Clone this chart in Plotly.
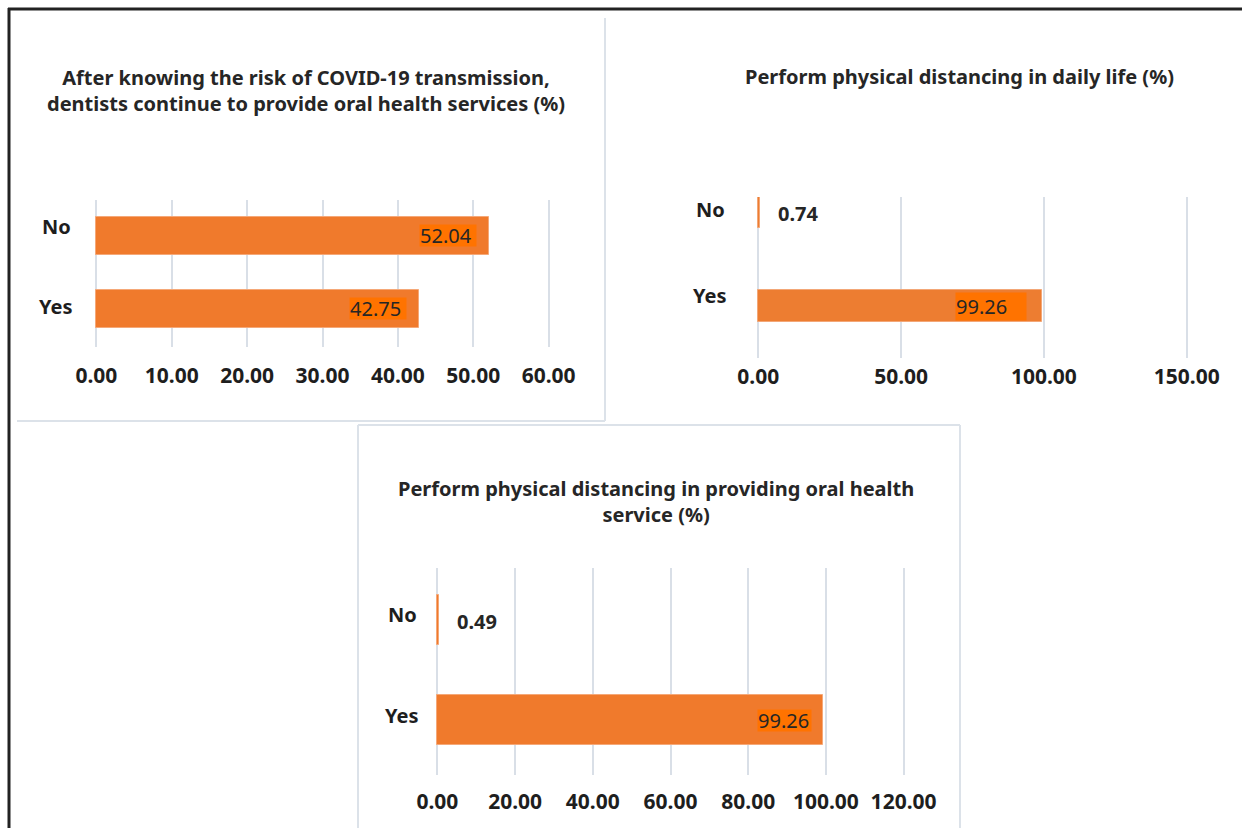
import plotly.graph_objects as go

# Survey responses (%) for three questions
categories = ["Yes", "No"]

continue_services = [42.75, 52.04]      # Yes, No
distancing_daily = [99.26, 0.74]        # Yes, No
distancing_service = [99.26, 0.49]      # Yes, No

titles = [
    "After knowing the risk of COVID-19 transmission,<br>dentists continue to provide oral health services (%)",
    "Perform physical distancing in daily life (%)",
    "Perform physical distancing in providing oral health<br>service (%)",
]

x_ticks_1 = [0, 10, 20, 30, 40, 50, 60]
x_ticks_2 = [0, 50, 100, 150]
x_ticks_3 = [0, 20, 40, 60, 80, 100, 120]

W, H = 1242, 828
FONT = "Noto Sans"
INK = "#262626"
GRID = "#D9DFE7"
BAR_GRAD = "#F07A2C"
BAR_FLAT = "#ED7D31"
LABEL_BOX = "#FF7300"


def px_x(a, b):
    return [a / W, b / W]


def px_y(top, bottom):
    return [1 - bottom / H, 1 - top / H]


fig = go.Figure()

panels = [
    dict(vals=continue_services, ticks=x_ticks_1, xd=px_x(95, 550), yd=px_y(200, 347),
         yr=[-0.52, 1.49], width=0.52, color=BAR_GRAD, line="#F5A878",
         title_xy=(306, 90), title_size=20, cat_dx=-39, cat_dy={"No": 9, "Yes": 2},
         box=dict(w=56, h=21, dx=-12), tickpad=14),
    dict(vals=distancing_daily, ticks=x_ticks_2, xd=px_x(757, 1188), yd=px_y(197, 358),
         yr=[-0.553, 1.16], width=0.35, color=BAR_FLAT, line="#F3A777",
         title_xy=(959, 77), title_size=20, cat_dx=-47, cat_dy={"No": 3, "Yes": 11},
         box=dict(w=70, h=27, dx=-15), tickpad=4),
    dict(vals=distancing_service, ticks=x_ticks_3, xd=px_x(436, 905), yd=px_y(568, 775),
         yr=[-0.55, 1.52], width=0.5, color=BAR_GRAD, line="#F5A878",
         title_xy=(656, 501), title_size=20, cat_dx=-34, cat_dy={"No": 6, "Yes": 5},
         box=dict(w=53, h=21, dx=-11), tickpad=12),
]

for i, p in enumerate(panels, start=1):
    xa = "x" if i == 1 else f"x{i}"
    ya = "y" if i == 1 else f"y{i}"
    top = p["ticks"][-1]
    fig.add_trace(go.Bar(
        x=p["vals"], y=categories, orientation="h", xaxis=xa, yaxis=ya,
        width=p["width"], marker=dict(color=p["color"], line=dict(color=p["line"], width=1)),
        showlegend=False, hoverinfo="skip",
    ))
    # a hair of padding keeps the end gridlines inside the plot area
    fig.layout[f"xaxis{'' if i == 1 else i}"] = dict(
        domain=p["xd"], anchor=ya, range=[-0.003 * top, top * 1.003],
        tickvals=p["ticks"], ticktext=[f"{t:.2f}" for t in p["ticks"]],
        showgrid=True, gridcolor=GRID, gridwidth=2, zeroline=False, showline=False,
        ticks="", ticklabelstandoff=p["tickpad"], automargin=False,
        tickfont=dict(family=FONT, size=21, color="#1E1E1E", weight="bold"),
        fixedrange=True,
    )
    fig.layout[f"yaxis{'' if i == 1 else i}"] = dict(
        domain=p["yd"], anchor=xa, type="category", categoryorder="array",
        categoryarray=categories, range=p["yr"], showticklabels=False,
        showgrid=False, zeroline=False, showline=False, fixedrange=True,
        automargin=False,
    )

    # category names beside the bars
    for cat in categories:
        fig.add_annotation(
            x=0, xref=f"{xa} domain", y=cat, yref=ya, text=cat, showarrow=False,
            xanchor="center", xshift=p["cat_dx"], yshift=p["cat_dy"][cat],
            font=dict(family=FONT, size=20, color="#1E1E1E", weight="bold"),
        )

    # value labels: large values sit inside the bar on a highlight box
    for cat, v in zip(categories, p["vals"]):
        if v > 10:
            b = p["box"]
            fig.add_annotation(
                x=v, xref=xa, y=cat, yref=ya, text=f"{v:.2f}", showarrow=False,
                xanchor="right", xshift=b["dx"], width=b["w"], height=b["h"],
                align="left", bgcolor=LABEL_BOX, borderpad=0,
                font=dict(family=FONT, size=20, color=INK),
            )
        else:
            fig.add_annotation(
                x=v, xref=xa, y=cat, yref=ya, text=f"{v:.2f}", showarrow=False,
                xanchor="left", xshift=16, yshift=-1,
                font=dict(family=FONT, size=20, color=INK, weight="bold"),
            )

    tx, ty = p["title_xy"]
    fig.add_annotation(
        x=tx / W, y=1 - ty / H, xref="paper", yref="paper", text=titles[i - 1],
        showarrow=False, xanchor="center", yanchor="middle", align="center",
        font=dict(family=FONT, size=p["title_size"], color=INK, weight="bold"),
    )

# panel frames
frame = dict(type="line", xref="paper", yref="paper", line=dict(color="#DCE2E9", width=2))
fig.add_shape(**frame, x0=17 / W, x1=605 / W, y0=1 - 421 / H, y1=1 - 421 / H)
fig.add_shape(**frame, x0=605 / W, x1=605 / W, y0=1 - 421 / H, y1=1 - 18 / H)
fig.add_shape(**frame, x0=358 / W, x1=960 / W, y0=1 - 425 / H, y1=1 - 425 / H)
fig.add_shape(**frame, x0=358 / W, x1=358 / W, y0=0, y1=1 - 425 / H)
fig.add_shape(**frame, x0=960 / W, x1=960 / W, y0=0, y1=1 - 425 / H)

# outer dark border (top and left)
edge = dict(type="line", xref="paper", yref="paper", line=dict(color="#222222", width=3))
fig.add_shape(**edge, x0=8 / W, x1=1, y0=1 - 9 / H, y1=1 - 9 / H)
fig.add_shape(**edge, x0=9 / W, x1=9 / W, y0=0, y1=1 - 8 / H)

fig.update_layout(
    template="none",
    width=W, height=H, margin=dict(l=0, r=0, t=0, b=0, pad=0, autoexpand=False),
    paper_bgcolor="white", plot_bgcolor="rgba(0,0,0,0)",
    barmode="overlay", bargap=0,
)

fig.write_html("out.html", config={"displayModeBar": False})
